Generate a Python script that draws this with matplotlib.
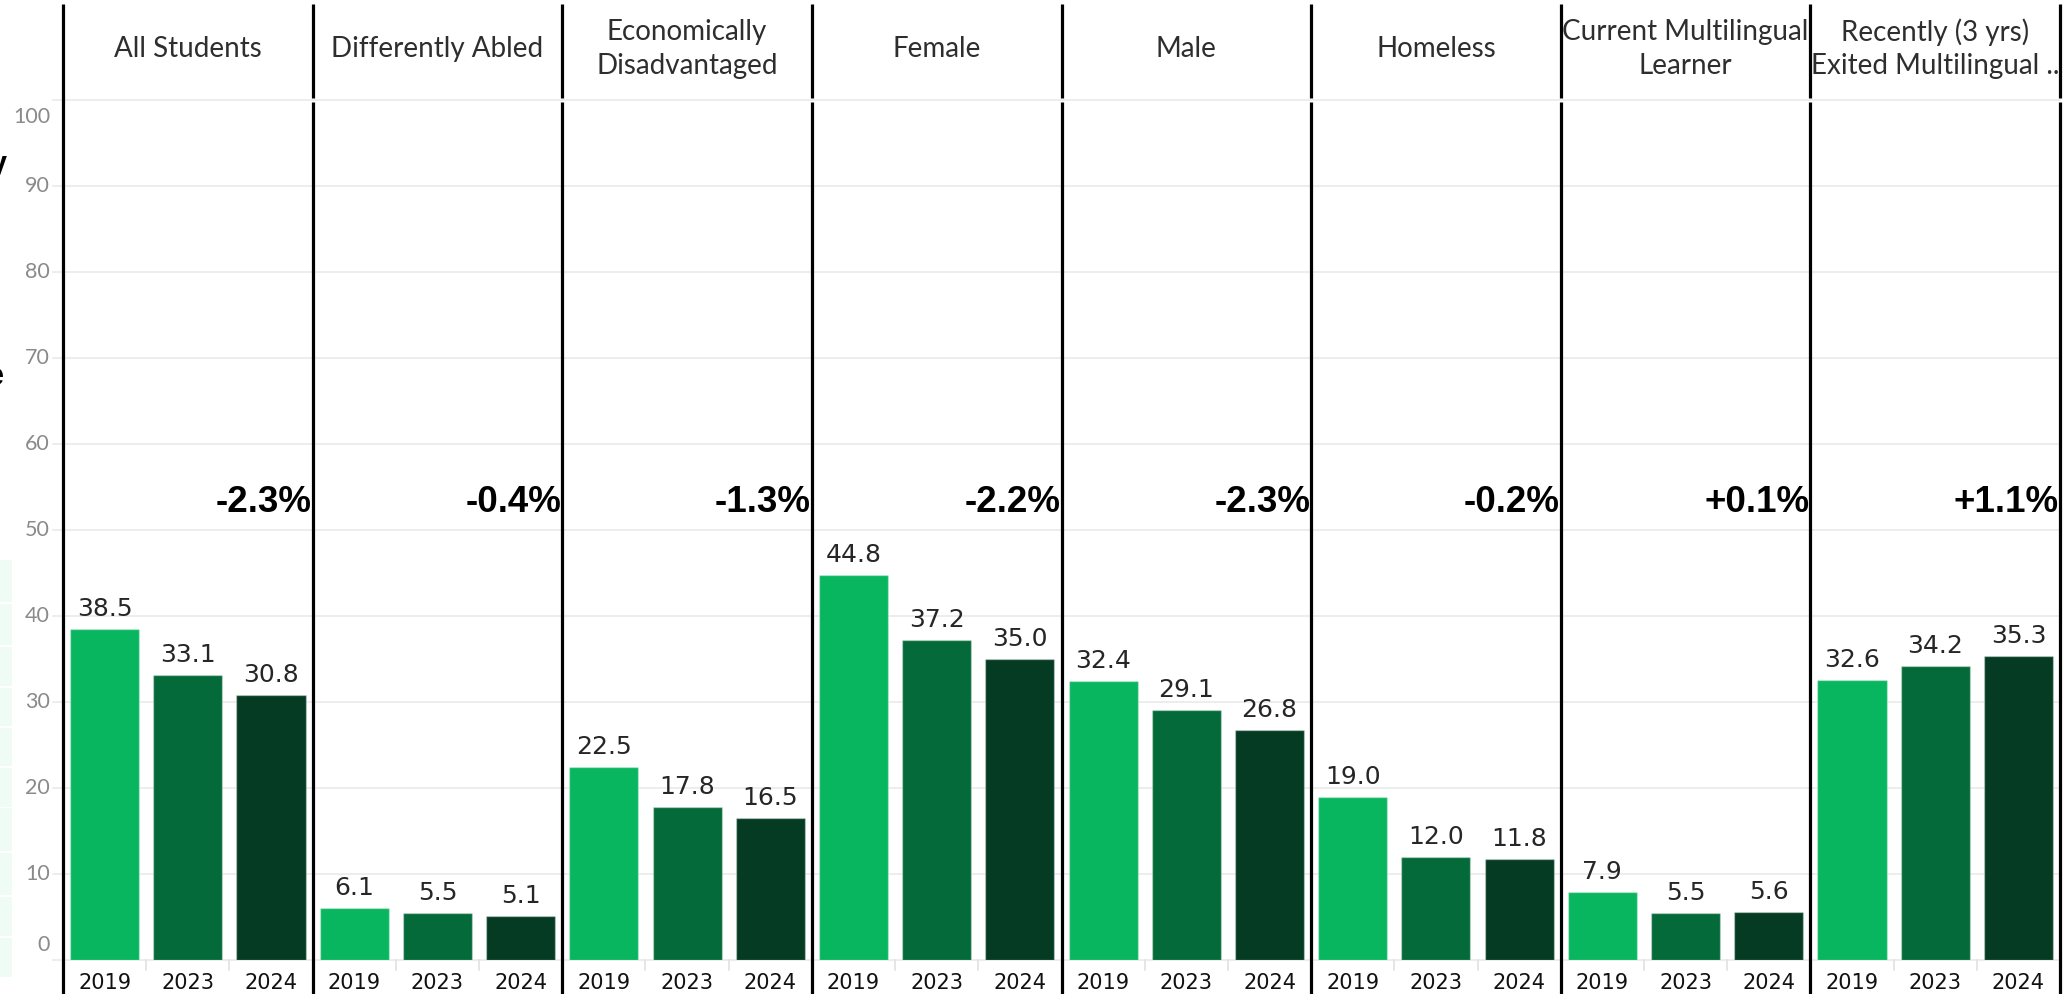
import matplotlib
matplotlib.use("Agg")
import matplotlib.pyplot as plt
from matplotlib.patches import Rectangle

# ---------------- data ----------------
groups = ["All Students", "Differently Abled", "Economically\nDisadvantaged",
          "Female", "Male", "Homeless", "Current Multilingual\nLearner",
          "Recently (3 yrs)\nExited Multilingual .."]
years = ["2019", "2023", "2024"]
v2019 = [38.5, 6.1, 22.5, 44.8, 32.4, 19.0, 7.9, 32.6]
v2023 = [33.1, 5.5, 17.8, 37.2, 29.1, 12.0, 5.5, 34.2]
v2024 = [30.8, 5.1, 16.5, 35.0, 26.8, 11.8, 5.6, 35.3]
changes = ["-2.3%", "-0.4%", "-1.3%", "-2.2%", "-2.3%", "-0.2%", "+0.1%", "+1.1%"]
yticks = [0, 10, 20, 30, 40, 50, 60, 70, 80, 90, 100]

series = [v2019, v2023, v2024]
colors = ["#08b660", "#056a39", "#043b22"]

W, H = 2064, 994
fig = plt.figure(figsize=(W / 100, H / 100), dpi=100)
fig.patch.set_facecolor("white")

# axes placement (pixels)
left_px, right_px, top_px, bot_px = 63, 2060, 100, 960
ax = fig.add_axes([left_px / W, (H - bot_px) / H,
                   (right_px - left_px) / W, (bot_px - top_px) / H])
ax.set_xlim(-0.5, 3 * len(groups) - 0.5)
ax.set_ylim(0, 100)
for s in ax.spines.values():
    s.set_visible(False)
ax.set_xticks([])
ax.set_yticks([])

ytr = ax.get_yaxis_transform()
xtr = ax.get_xaxis_transform()
ext = 10 / (right_px - left_px)

# gridlines
for t in yticks:
    ax.plot([-ext, 1], [t, t], transform=ytr, color="#ececec", lw=1.3,
            clip_on=False, zorder=0)

# y tick labels (edge labels nudged inward like the reference)
for t in yticks:
    dy = -17 if t == 100 else (15 if t == 0 else 0)
    ax.annotate(str(t), xy=(0, t), xycoords=ytr, xytext=(-13, dy),
                textcoords="offset pixels", ha="right", va="center",
                fontsize=15.5, color="#8a8a8a", family="Lato",
                annotation_clip=False)

# bars
bw = 0.83
for j, vals in enumerate(series):
    xs = [g * 3 + j for g in range(len(groups))]
    ax.bar(xs, vals, width=bw, color=colors[j],
           edgecolor=(1, 1, 1, 0.35), linewidth=1.0, zorder=3)
    for x, v in zip(xs, vals):
        ax.annotate(f"{v:.1f}", xy=(x, v), xytext=(0, 13),
                    textcoords="offset pixels", ha="center", va="baseline",
                    fontsize=18, color="#262626", family="DejaVu Sans",
                    zorder=4)
        ax.annotate(years[j], xy=(x, 0), xycoords=("data", "data"),
                    xytext=(0, -29), textcoords="offset pixels",
                    ha="center", va="baseline", fontsize=15,
                    color="#111111", family="DejaVu Sans",
                    annotation_clip=False)

# small separator ticks under the baseline between bars
for g in range(len(groups)):
    for b in (0.5, 1.5):
        ax.plot([g * 3 + b, g * 3 + b], [0, -10 / 8.6], color="#e2e2e2",
                lw=1.2, clip_on=False, zorder=1)

# panel separators (black vertical lines)
y_top = (bot_px - 4) / (bot_px - top_px)
y_hdr = (bot_px - 98) / (bot_px - top_px)
y_pane = (bot_px - 102) / (bot_px - top_px)
y_bot = (bot_px - 1000) / (bot_px - top_px)
for g in range(len(groups) + 1):
    x = g * 3 - 0.5
    if g == 0:
        ax.plot([x, x], [y_bot, y_top], transform=xtr, color="black",
                lw=2.3, clip_on=False, zorder=6, solid_capstyle="butt")
    else:
        ax.plot([x, x], [y_pane, y_bot], transform=xtr, color="black",
                lw=2.3, clip_on=False, zorder=6, solid_capstyle="butt")
        ax.plot([x, x], [y_top, y_hdr], transform=xtr, color="black",
                lw=2.3, clip_on=False, zorder=6, solid_capstyle="butt")

# headers
y_head = (bot_px - 49) / (bot_px - top_px)
for g, name in enumerate(groups):
    ax.text(g * 3 + 1, y_head, name, transform=xtr, ha="center",
            va="center", fontsize=20, color="#2e2e2e", family="Lato",
            linespacing=1.35, clip_on=False)

# change labels
for g, c in enumerate(changes):
    ax.annotate(c, xy=(g * 3 + 2.5, 52.1), xytext=(-1, 0),
                textcoords="offset pixels", ha="right", va="baseline",
                fontsize=26.5, fontweight="bold", color="black",
                family="Liberation Sans", zorder=7)

# cut-off fragments at the far left edge
fig.text(7 / W, 1 - 165 / H, "y", ha="right", va="center", fontsize=22,
         fontweight="bold", family="Liberation Sans", color="black")
fig.text(4 / W, 1 - 377 / H, "e", ha="right", va="center", fontsize=22,
         fontweight="bold", family="Liberation Sans", color="black")

# mint cells at the far left
cell_tops = [560, 604, 647, 688, 728, 768, 808, 853, 897, 938]
cell_bots = [602, 645, 686, 726, 766, 807, 851, 895, 936, 977]
for t, b in zip(cell_tops, cell_bots):
    fig.patches.append(Rectangle((0, 1 - b / H), 12 / W, (b - t) / H,
                                 transform=fig.transFigure,
                                 facecolor="#effcf5", edgecolor="none"))

fig.savefig("out.png", dpi=100)
